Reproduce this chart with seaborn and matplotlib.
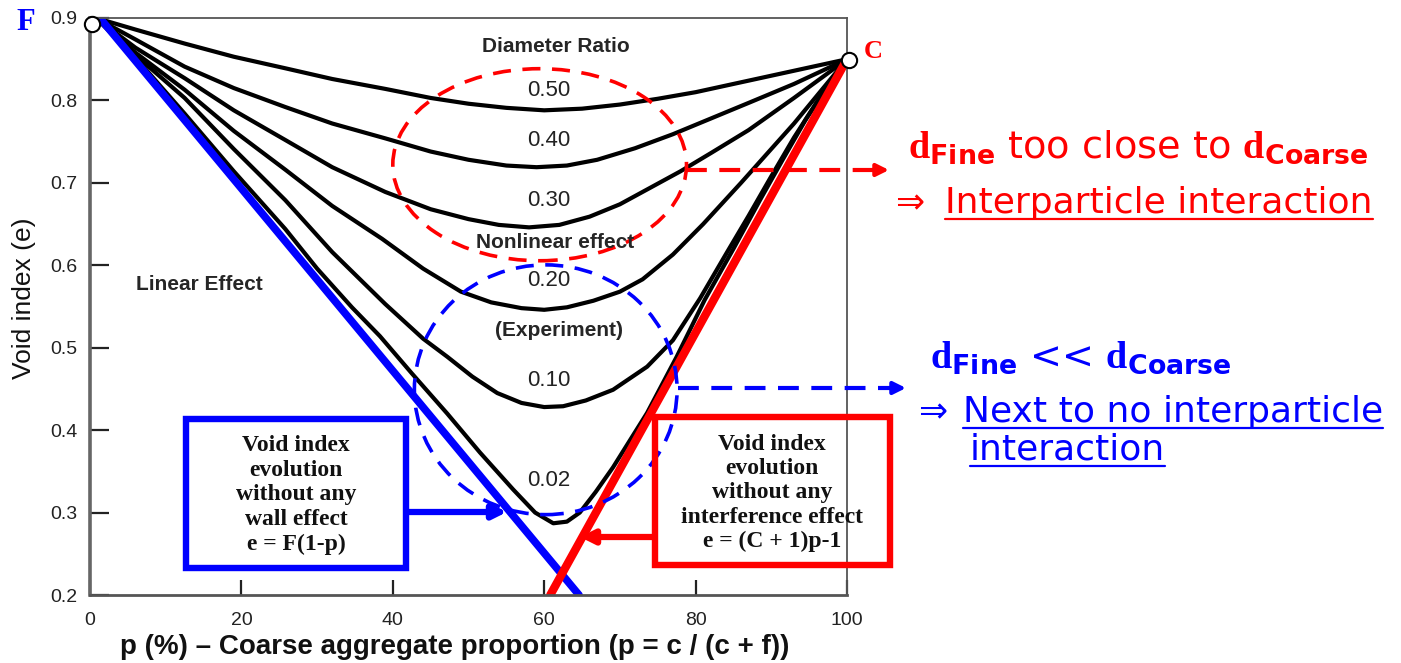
import numpy as np
import pandas as pd
import matplotlib
matplotlib.use("Agg")
import matplotlib.pyplot as plt
import seaborn as sns
from matplotlib.patches import Ellipse, Rectangle
from matplotlib.lines import Line2D

# ---------------- data ----------------
ratios = ["0.50", "0.40", "0.30", "0.20", "0.10", "0.02"]

p_050 = [0.8, 6, 12.5, 19, 25.8, 32, 39, 45, 50, 55, 60, 65, 70, 75, 80, 85, 90, 95, 100]
e_050 = [0.900, 0.886, 0.869, 0.853, 0.839, 0.826, 0.814, 0.803, 0.796, 0.791, 0.788, 0.790,
         0.795, 0.802, 0.810, 0.820, 0.830, 0.840, 0.850]

p_040 = [0.8, 6, 12.5, 19, 25.8, 32, 39, 45, 50, 55, 59, 63, 67, 72, 77, 82, 87, 93, 100]
e_040 = [0.900, 0.874, 0.841, 0.815, 0.792, 0.772, 0.754, 0.738, 0.728, 0.721, 0.719, 0.721,
         0.728, 0.742, 0.759, 0.778, 0.797, 0.820, 0.850]

p_030 = [0.8, 6, 12.5, 19, 25.8, 32, 39, 45, 50, 54, 58, 62, 66, 70, 74, 78, 82, 87, 93, 100]
e_030 = [0.900, 0.864, 0.827, 0.788, 0.752, 0.719, 0.689, 0.668, 0.656, 0.649, 0.646, 0.649,
         0.659, 0.674, 0.694, 0.714, 0.736, 0.764, 0.803, 0.850]

p_020 = [0.8, 6, 12.5, 19, 25.8, 32, 38.6, 44, 49, 53, 57, 60, 63, 66.5, 70, 73, 77, 81, 86, 93, 100]
e_020 = [0.900, 0.858, 0.813, 0.763, 0.716, 0.672, 0.632, 0.596, 0.568, 0.555, 0.548, 0.546,
         0.549, 0.557, 0.568, 0.583, 0.613, 0.650, 0.700, 0.772, 0.850]

p_010 = [0.8, 6, 12.5, 19, 25.8, 32, 39, 44, 47.2, 50.5, 53.8, 57, 60, 62.5, 65.5, 69.1, 73.6,
         77, 80.6, 84.1, 87, 90, 93, 96.5, 100]
e_010 = [0.900, 0.855, 0.803, 0.741, 0.679, 0.616, 0.553, 0.511, 0.489, 0.465, 0.445, 0.433,
         0.428, 0.429, 0.436, 0.449, 0.477, 0.509, 0.560, 0.615, 0.660, 0.708, 0.755, 0.805, 0.850]

p_002 = [0.8, 6, 12.5, 19, 25.8, 30, 34.6, 38.3, 42.5, 47.2, 51.5, 55.9, 58.8, 61.2, 63, 64.7,
         66.8, 69.1, 73.6, 77.5, 81.2, 85, 88.5, 91.5, 94.5, 97.3, 100]
e_002 = [0.900, 0.852, 0.784, 0.714, 0.644, 0.596, 0.549, 0.514, 0.469, 0.420, 0.373, 0.328,
         0.300, 0.287, 0.289, 0.300, 0.325, 0.355, 0.421, 0.489, 0.558, 0.620, 0.679, 0.728,
         0.776, 0.815, 0.850]

blue_p = [1.3, 64.6]      # e = F(1-p), no wall effect
blue_e = [0.900, 0.200]
red_p = [100.0, 60.8]     # e = (C+1)p-1, no interference effect
red_e = [0.850, 0.200]

end_p = [0.3, 100.3]      # F and C points
end_e = [0.893, 0.849]

xticks = [0, 20, 40, 60, 80, 100]
xtick_labels = ["0", "20", "40", "60", "80", "100"]
yticks = [0.2, 0.3, 0.4, 0.5, 0.6, 0.7, 0.8, 0.9]
ytick_labels = ["0.2", "0.3", "0.4", "0.5", "0.6", "0.7", "0.8", "0.9"]

# ---------------- style ----------------
sns.set_theme(style="white")
plt.rcParams["font.family"] = ["Liberation Sans", "DejaVu Sans"]
plt.rcParams["mathtext.fontset"] = "custom"
plt.rcParams["mathtext.bf"] = "Liberation Serif:bold"
plt.rcParams["mathtext.sf"] = "DejaVu Sans:bold"
plt.rcParams["mathtext.rm"] = "DejaVu Sans"

W, H = 1401, 663
fig = plt.figure(figsize=(W / 100, H / 100), dpi=100)
fig.patch.set_facecolor("white")
ax = fig.add_axes([90 / W, 1 - 595 / H, 757 / W, 577 / H])


def fx(x):
    return x / W


def fy(y):
    return 1 - y / H


# ---------------- curves ----------------
curves = [(p_050, e_050), (p_040, e_040), (p_030, e_030), (p_020, e_020), (p_010, e_010), (p_002, e_002)]
df = pd.concat(
    [pd.DataFrame({"p": p, "e": e, "ratio": r}) for r, (p, e) in zip(ratios, curves)],
    ignore_index=True,
)
sns.lineplot(data=df, x="p", y="e", hue="ratio", palette=["black"] * 6, sort=False,
             estimator=None, legend=False, lw=3.0, ax=ax)
for ln in ax.lines:
    ln.set_solid_joinstyle("round")
sns.lineplot(x=blue_p, y=blue_e, color="#0000ff", lw=5.5, estimator=None, sort=False, ax=ax)
sns.lineplot(x=red_p, y=red_e, color="#ff0000", lw=6.0, estimator=None, sort=False, ax=ax)
ax.plot(end_p, end_e, "o", ms=11, mfc="white", mec="black", mew=1.5, ls="none",
        clip_on=False, zorder=10)

# dashed ellipses
ax.add_patch(Ellipse((59.4, 0.722), 38.8, 0.233, fill=False, ec="#ff0000", lw=2.6,
                     ls=(0, (5, 3.2)), zorder=6))
ax.add_patch(Ellipse((60.2, 0.449), 34.7, 0.303, fill=False, ec="#0000ff", lw=2.6,
                     ls=(0, (5, 3.2)), zorder=6))

# ---------------- axes ----------------
ax.set_xlim(0, 100)
ax.set_ylim(0.2, 0.9)
ax.set_xticks(xticks)
ax.set_xticklabels(xtick_labels)
ax.set_yticks(yticks)
ax.set_yticklabels(ytick_labels)
ax.tick_params(axis="y", which="major", left=True, direction="in", length=14, width=1.6,
               color="#222222", labelsize=14, labelcolor="#222222", pad=9)
ax.tick_params(axis="x", which="major", bottom=True, direction="in", length=11, width=1.6,
               color="#222222", labelsize=14, labelcolor="#222222", pad=12)
for side, lw, c in [("left", 2.6, "#666666"), ("bottom", 2.0, "#555555"),
                    ("top", 1.3, "#555555"), ("right", 1.3, "#555555")]:
    ax.spines[side].set_visible(True)
    ax.spines[side].set_linewidth(lw)
    ax.spines[side].set_color(c)
ax.grid(False)
ax.set_ylabel("Void index (e)", fontsize=19, color="#111111")
ax.yaxis.set_label_coords(-0.071, 0.515)
ax.set_xlabel("p (%) \u2013 Coarse aggregate proportion (p = c / (c + f))", fontsize=20,
              fontweight="bold", color="#111111")
ax.xaxis.set_label_coords(0.482, -0.068)

# ---------------- in-plot labels ----------------
fig.text(fx(556), fy(47), "Diameter Ratio", fontsize=15, fontweight="bold", ha="center", va="center")
for lab, y in [("0.50", 91), ("0.40", 141), ("0.30", 201), ("0.20", 280), ("0.10", 380), ("0.02", 481)]:
    fig.text(fx(549), fy(y), lab, fontsize=16, ha="center", va="center", color="#222222")
fig.text(fx(555), fy(242), "Nonlinear effect", fontsize=15, fontweight="bold", ha="center", va="center")
fig.text(fx(559), fy(331), "(Experiment)", fontsize=15, fontweight="bold", ha="center", va="center")
fig.text(fx(199), fy(285), "Linear Effect", fontsize=15, fontweight="bold", ha="center", va="center")
fig.text(fx(26), fy(22), "F", fontsize=22, fontweight="bold", family="Liberation Serif",
         color="#0000ff", ha="center", va="center")
fig.text(fx(873), fy(52), "C", fontsize=19, fontweight="bold", family="Liberation Serif",
         color="#ff0000", ha="center", va="center")

# ---------------- boxes ----------------
fig.add_artist(Rectangle((fx(186), fy(568)), (406 - 186) / W, (568 - 419) / H,
                         transform=fig.transFigure, fill=False, ec="#0000ff", lw=4.6))
fig.add_artist(Rectangle((fx(655), fy(565)), (890 - 655) / W, (565 - 417) / H,
                         transform=fig.transFigure, fill=False, ec="#ff0000", lw=4.6))
fig.text(fx(296), fy(495), "Void index\nevolution\nwithout any\nwall effect\ne = F(1-p)",
         family="Liberation Serif", fontweight="bold", fontsize=17, ha="center", va="center",
         linespacing=1.23, color="#111111")
fig.text(fx(772), fy(493), "Void index\nevolution\nwithout any\ninterference effect\ne = (C + 1)p-1",
         family="Liberation Serif", fontweight="bold", fontsize=17, ha="center", va="center",
         linespacing=1.2, color="#111111")
ax.annotate("", xy=(fx(507), fy(512)), xytext=(fx(409), fy(512)), xycoords="figure fraction",
            textcoords="figure fraction",
            arrowprops=dict(arrowstyle="-|>", color="#0000ff", lw=4.5, mutation_scale=20,
                            shrinkA=0, shrinkB=0))
ax.annotate("", xy=(fx(580), fy(537)), xytext=(fx(652), fy(537)), xycoords="figure fraction",
            textcoords="figure fraction",
            arrowprops=dict(arrowstyle="-|>", color="#ff0000", lw=4.5, mutation_scale=20,
                            shrinkA=0, shrinkB=0))

# dashed connectors to the right-hand notes
fig.add_artist(Line2D([fx(686), fx(875)], [fy(170), fy(170)], transform=fig.transFigure,
                      color="#ff0000", lw=3, ls=(0, (5, 3))))
ax.annotate("", xy=(fx(889), fy(170)), xytext=(fx(872), fy(170)), xycoords="figure fraction",
            textcoords="figure fraction",
            arrowprops=dict(arrowstyle="-|>", color="#ff0000", lw=3, mutation_scale=18,
                            shrinkA=0, shrinkB=0))
fig.add_artist(Line2D([fx(678), fx(892)], [fy(388), fy(388)], transform=fig.transFigure,
                      color="#0000ff", lw=3, ls=(0, (5, 3))))
ax.annotate("", xy=(fx(906), fy(388)), xytext=(fx(889), fy(388)), xycoords="figure fraction",
            textcoords="figure fraction",
            arrowprops=dict(arrowstyle="-|>", color="#0000ff", lw=3, mutation_scale=18,
                            shrinkA=0, shrinkB=0))

# ---------------- right-hand notes ----------------
note_font = "DejaVu Sans"
fig.text(fx(908), fy(158), r"$\mathbf{d}_{\mathsf{Fine}}$ too close to $\mathbf{d}_{\mathsf{Coarse}}$",
         color="#ff0000", fontsize=27.5, family=note_font, va="baseline")
fig.text(fx(895), fy(213), "\u21d2", color="#ff0000", fontsize=25, family=note_font, va="baseline")
u1 = fig.text(fx(945), fy(213), "Interparticle interaction", color="#ff0000", fontsize=26,
              family=note_font, va="baseline")
fig.text(fx(930), fy(368), r"$\mathbf{d}_{\mathsf{Fine}}$ << $\mathbf{d}_{\mathsf{Coarse}}$",
         color="#0000ff", fontsize=27.5, family=note_font, va="baseline")
fig.text(fx(918), fy(422), "\u21d2", color="#0000ff", fontsize=25, family=note_font, va="baseline")
u2 = fig.text(fx(963), fy(422), "Next to no interparticle", color="#0000ff", fontsize=26,
              family=note_font, va="baseline")
u3 = fig.text(fx(970), fy(460), "interaction", color="#0000ff", fontsize=26,
              family=note_font, va="baseline")

fig.canvas.draw()
renderer = fig.canvas.get_renderer()
for t, col in [(u1, "#ff0000"), (u2, "#0000ff"), (u3, "#0000ff")]:
    bb = t.get_window_extent(renderer)
    y = bb.y0 + 1
    fig.add_artist(Line2D([bb.x0 / W, bb.x1 / W], [y / H, y / H], transform=fig.transFigure,
                          color=col, lw=1.6))

fig.savefig("out.png", dpi=100, facecolor="white")
